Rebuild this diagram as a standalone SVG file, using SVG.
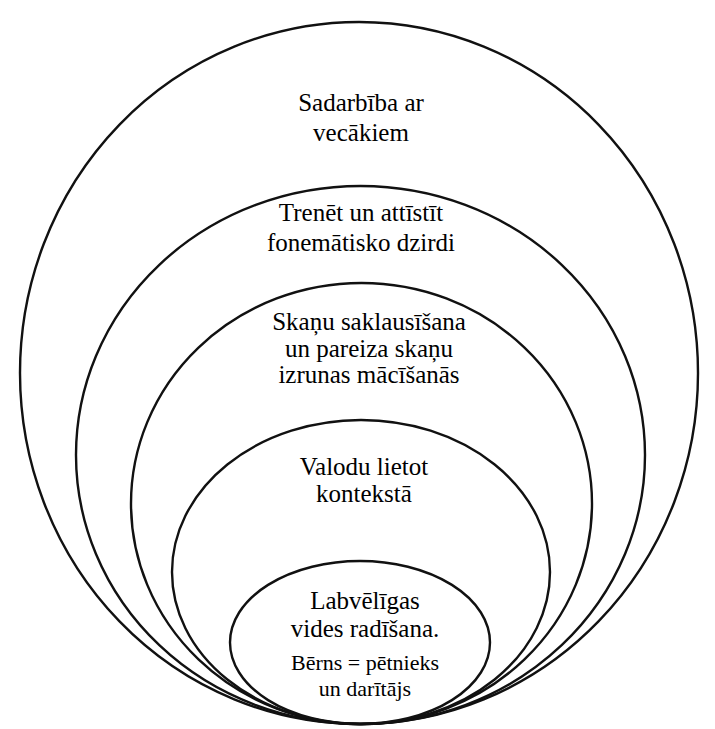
<svg xmlns="http://www.w3.org/2000/svg" width="715" height="729" viewBox="0 0 715 729">
<style>
.e{fill:none;stroke:#111;stroke-width:2.4}
</style>
<rect width="715" height="729" fill="#fff"/>
<g id="level1">
<ellipse class="e" cx="359" cy="373" rx="339" ry="351"/>
<text x="361" y="111" font-size="25" font-family="Liberation Serif" text-anchor="middle">Sadarbība ar</text>
<text x="361" y="141" font-size="25" font-family="Liberation Serif" text-anchor="middle">vecākiem</text>
</g>
<g id="level2">
<ellipse class="e" cx="360.5" cy="455" rx="284.5" ry="269"/>
<text x="361" y="221" font-size="25" font-family="Liberation Serif" text-anchor="middle">Trenēt un attīstīt</text>
<text x="361" y="251" font-size="25" font-family="Liberation Serif" text-anchor="middle">fonemātisko dzirdi</text>
</g>
<g id="level3">
<ellipse class="e" cx="361.5" cy="503.5" rx="230.5" ry="220.5"/>
<text x="369" y="330" font-size="25" font-family="Liberation Serif" text-anchor="middle">Skaņu saklausīšana</text>
<text x="369" y="357" font-size="25" font-family="Liberation Serif" text-anchor="middle">un pareiza skaņu</text>
<text x="369" y="383" font-size="25" font-family="Liberation Serif" text-anchor="middle">izrunas mācīšanās</text>
</g>
<g id="level4">
<ellipse class="e" cx="361" cy="572" rx="189" ry="152"/>
<text x="364" y="475" font-size="25" font-family="Liberation Serif" text-anchor="middle">Valodu lietot</text>
<text x="364" y="502" font-size="25" font-family="Liberation Serif" text-anchor="middle">kontekstā</text>
</g>
<g id="level5">
<ellipse class="e" cx="360" cy="642.5" rx="130" ry="81.5"/>
<text x="365" y="609" font-size="25" font-family="Liberation Serif" text-anchor="middle">Labvēlīgas</text>
<text x="365" y="637" font-size="25" font-family="Liberation Serif" text-anchor="middle">vides radīšana.</text>
<text x="365" y="670" font-size="22" font-family="Liberation Serif" text-anchor="middle">Bērns = pētnieks</text>
<text x="365" y="696" font-size="22" font-family="Liberation Serif" text-anchor="middle">un darītājs</text>
</g>
<g id="connectors"></g>
</svg>
